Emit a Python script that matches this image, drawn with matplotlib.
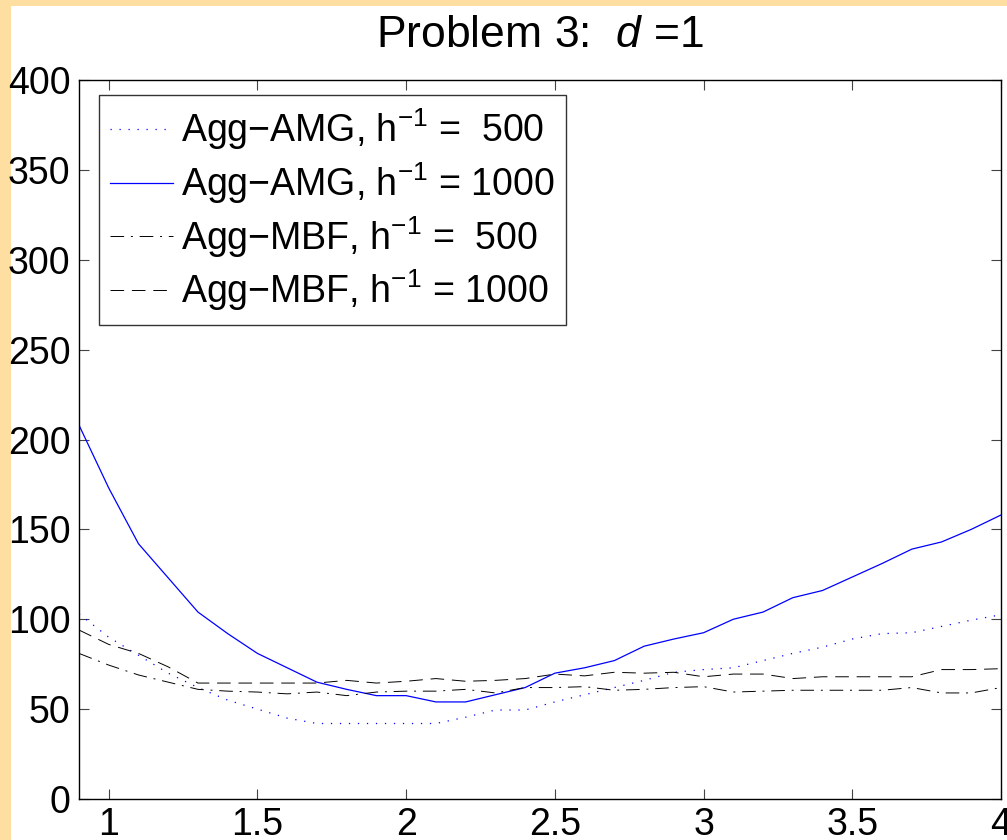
import matplotlib
matplotlib.use("Agg")
import matplotlib.pyplot as plt
from matplotlib.patches import Rectangle

# parameter values along the x axis
x_vals = [0.9, 1.0, 1.1, 1.2, 1.3, 1.4, 1.5, 1.6, 1.7, 1.8, 1.9, 2.0, 2.1, 2.2, 2.3, 2.4,
          2.5, 2.6, 2.7, 2.8, 2.9, 3.0, 3.1, 3.2, 3.3, 3.4, 3.5, 3.6, 3.7, 3.8, 3.9, 4.0]

# iteration counts
amg_500 = [103, 90, 80, 70, 62, 55, 50, 45, 42, 42, 42, 42, 42, 45.5, 49.5, 49.5,
           54, 58, 62, 66, 70.5, 72, 73, 77, 81, 84.5, 89, 92, 92.5, 96, 99.5, 102.5]
amg_1000 = [208, 173, 142, 123, 104, 92, 81, 73, 65, 61, 57.5, 57.5, 54, 54, 58, 62,
            70, 73, 77, 85, 89, 92.5, 100, 104, 112, 116, 123.5, 131, 139, 143, 150, 158]
mbf_500 = [81, 74.5, 69, 65, 61, 60, 59.5, 58.5, 59.5, 57.5, 59.5, 60, 60, 61, 59, 62,
           62, 62.5, 60.5, 61, 62, 62.5, 59.5, 60, 60.5, 60.5, 60.5, 60.5, 62, 59, 59, 62]
mbf_1000 = [94, 86, 81, 73.5, 64.5, 64.5, 64.5, 64.5, 64.5, 66, 64.5, 65.5, 67, 65.5, 66, 67,
            69.5, 68.5, 70.5, 70, 70.5, 68, 69.5, 69.5, 67, 68, 68, 68, 68, 72, 72, 72.5]

labels = [
    "Agg\u2212AMG, h$^{-1}$ =  500",
    "Agg\u2212AMG, h$^{-1}$ = 1000",
    "Agg\u2212MBF, h$^{-1}$ =  500",
    "Agg\u2212MBF, h$^{-1}$ = 1000",
]
x_ticks = [1, 1.5, 2, 2.5, 3, 3.5, 4]
y_ticks = [0, 50, 100, 150, 200, 250, 300, 350, 400]

plt.rcParams["font.family"] = ["Liberation Sans", "DejaVu Sans"]
plt.rcParams["mathtext.fontset"] = "custom"
plt.rcParams["mathtext.rm"] = "Liberation Sans"
plt.rcParams["mathtext.it"] = "Liberation Sans:italic"

W, H = 1007, 840
fig = plt.figure(figsize=(W / 100, H / 100), dpi=100, facecolor="#FFDEA2")
# white page inside the orange frame
fig.patches.append(Rectangle((11 / W, 0), 1 - 11 / W, 834 / H, transform=fig.transFigure,
                             facecolor="white", edgecolor="none", zorder=-5))

ax = fig.add_axes([79 / W, (H - 799) / H, (1001 - 79) / W, (799 - 80) / H])
ax.set_zorder(2)
ax.set_facecolor("white")

ax.plot(x_vals, amg_500, color="#0000FF", lw=0.9, dashes=(1, 6.2), label=labels[0])
ax.plot(x_vals, amg_1000, color="#0000FF", lw=0.9, label=labels[1])
ax.plot(x_vals, mbf_500, color="black", lw=0.7, dashes=(14, 7, 2, 7), label=labels[2])
ax.plot(x_vals, mbf_1000, color="black", lw=0.7, dashes=(14, 8), label=labels[3])

ax.set_xlim(0.9, 4.0)
ax.set_ylim(0, 400)
ax.set_xticks(x_ticks)
ax.set_xticklabels(["1", "1.5", "2", "2.5", "3", "3.5", "4"])
ax.set_yticks(y_ticks)
ax.tick_params(direction="in", top=True, right=True, length=7, width=0.8,
               labelsize=27, pad=6, color="#444444")
for s in ax.spines.values():
    s.set_linewidth(1.0)

ax.set_title("Problem 3:  $d$ =1", fontsize=32, pad=24)

leg = ax.legend(loc="upper left", bbox_to_anchor=(20 / 922, 1 - 15 / 719), borderaxespad=0,
                fontsize=27, frameon=True, fancybox=False, handlelength=1.67,
                handletextpad=0.22, labelspacing=0.22, borderpad=0.3)
leg.get_frame().set_edgecolor("black")
leg.get_frame().set_linewidth(1.0)

fig.savefig("out.png", dpi=100, facecolor=fig.get_facecolor())
